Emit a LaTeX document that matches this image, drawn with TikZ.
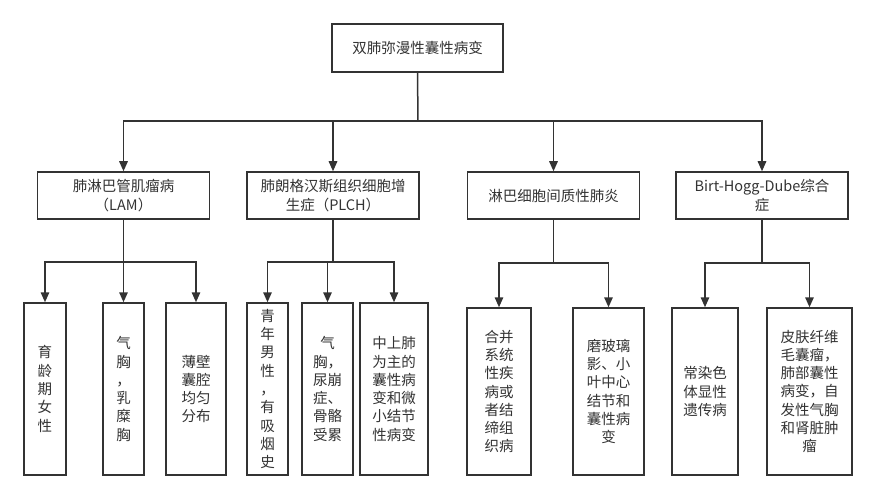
\documentclass[tikz,border=0pt]{standalone}
\usepackage{fontspec}
\newfontfamily\cjk{Noto Sans CJK SC}
\usetikzlibrary{arrows.meta}
\definecolor{ink}{HTML}{333333}
\tikzset{
  box/.style={draw=ink, fill=white, line width=1.5pt, inner sep=0pt, align=center,
    text=ink, font=\cjk\fontsize{14.5}{18.3}\selectfont},
  lvltwo/.style={box, minimum width=172pt, minimum height=47pt},
  conn/.style={draw=ink, line width=1.5pt},
  arr/.style={conn, -{Triangle[length=10pt,width=8.5pt]}},
}
\begin{document}
\begin{tikzpicture}[x=1pt,y=-1pt]
\useasboundingbox (0,0) rectangle (876,500);
% top
\node[box, minimum width=171pt, minimum height=48pt] (top) at (417.5,48) {双肺弥漫性囊性病变};
% level 2
\node[lvltwo] (n1) at (123.5,195.5) {肺淋巴管肌瘤病\\（LAM）};
\node[lvltwo] (n2) at (333,195.5) {肺朗格汉斯组织细胞增\\生症（PLCH）};
\node[lvltwo] (n3) at (553.5,195.5) {淋巴细胞间质性肺炎};
\node[lvltwo] (n4) at (762,195.5) {Birt-Hogg-Dube综合\\症};
% level 3
\node[box, minimum width=42pt, minimum height=172pt] (a) at (45,389) {育\\龄\\期\\女\\性};
\node[box, minimum width=41pt, minimum height=172pt] (b) at (123.5,389) {气\\胸\\，\\乳\\糜\\胸};
\node[box, minimum width=60pt, minimum height=172pt] (c) at (196,389) {薄壁\\囊腔\\均匀\\分布};
\node[box, minimum width=41pt, minimum height=172pt] (d) at (267.5,389) {青\\年\\男\\性\\，\\有\\吸\\烟\\史};
\node[box, minimum width=51pt, minimum height=172pt] (e) at (327.5,389) {气\\胸，\\尿崩\\症、\\骨骼\\受累};
\node[box, minimum width=68pt, minimum height=172pt] (f) at (394,389) {中上肺\\为主的\\囊性病\\变和微\\小结节\\性病变};
\node[box, minimum width=64pt, minimum height=167pt] (g) at (499,391.5) {合并\\系统\\性疾\\病或\\者结\\缔组\\织病};
\node[box, minimum width=71pt, minimum height=167pt] (h) at (608.5,391.5) {磨玻璃\\影、小\\叶中心\\结节和\\囊性病\\变};
\node[box, minimum width=66pt, minimum height=167pt] (i) at (705,391.5) {常染色\\体显性\\遗传病};
\node[box, minimum width=85pt, minimum height=167pt] (j) at (809.5,391.5) {皮肤纤维\\毛囊瘤，\\肺部囊性\\病变，自\\发性气胸\\和肾脏肿\\瘤};
% bus coordinates
\coordinate (bus0) at (418,121);
\coordinate (bus1) at (123.5,262);
\coordinate (bus2) at (333,262);
\coordinate (bus3) at (553.5,263);
\coordinate (bus4) at (762,263);
% connectors level 1
\draw[conn] (top.south) -- (bus0);
\foreach \n in {n1,n2,n3,n4} { \draw[arr] (bus0) -| (\n.north); }
% connectors level 2
\draw[conn] (n1.south) -- (bus1);
\foreach \n in {a,b,c} { \draw[arr] (bus1) -| (\n.north); }
\draw[conn] (n2.south) -- (bus2);
\foreach \n in {d,e,f} { \draw[arr] (bus2) -| (\n.north); }
\draw[conn] (n3.south) -- (bus3);
\foreach \n in {g,h} { \draw[arr] (bus3) -| (\n.north); }
\draw[conn] (n4.south) -- (bus4);
\foreach \n in {i,j} { \draw[arr] (bus4) -| (\n.north); }
\end{tikzpicture}
\end{document}
